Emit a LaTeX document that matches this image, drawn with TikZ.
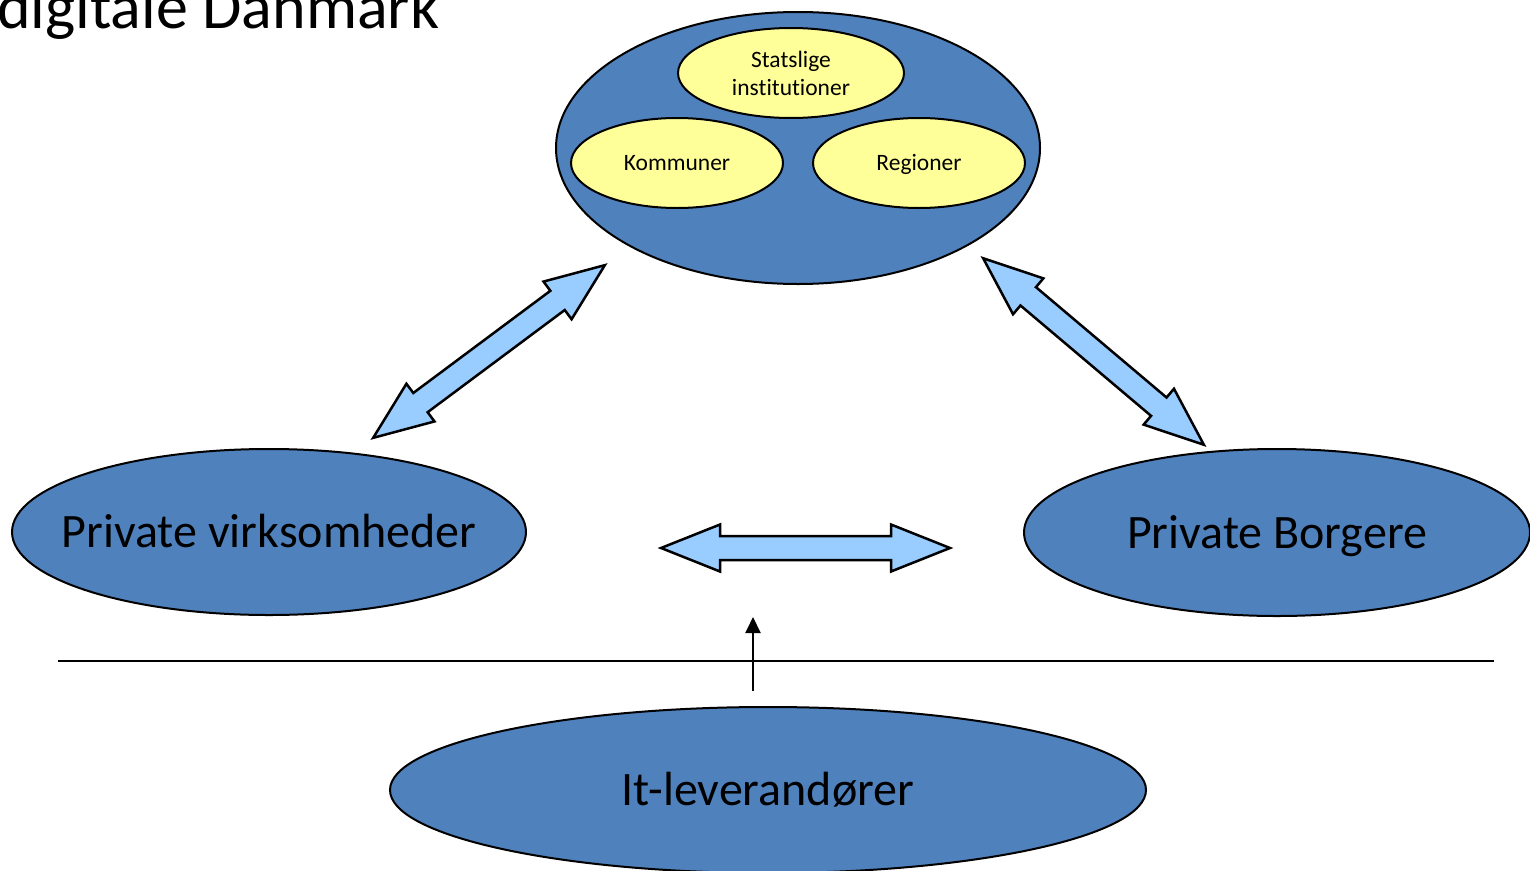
\documentclass[tikz,border=0pt]{standalone}
\usepackage{fontspec}
\setmainfont{Carlito}[Ligatures=NoCommon]
\usetikzlibrary{shapes.geometric,arrows.meta}

\definecolor{officeblue}{HTML}{4F81BD}
\definecolor{paleyellow}{HTML}{FFFF99}
\definecolor{arrowblue}{HTML}{99CCFF}

\tikzset{
  bigblob/.style={ellipse,draw=black,line width=2pt,fill=officeblue,inner sep=0pt},
  bigtext/.style={font=\fontsize{48}{58}\selectfont,text height=31pt,text depth=0pt,inner sep=0pt},
  smallblob/.style={ellipse,draw=black,line width=2pt,fill=paleyellow,inner sep=0pt,
    font=\fontsize{23.5}{28}\selectfont,align=center},
  smalltext/.style={text height=15.3pt,text depth=0pt},
  arrowbody/.style={draw=black,line width=2.5pt,fill=arrowblue,line join=miter},
}

% block arrow with two heads: centre, angle
\newcommand{\twowayarrow}[2]{%
  \begin{scope}[shift={#1},rotate=#2]
    \draw[arrowbody] (-144.5,0) -- (-85.5,23.5) -- (-85.5,12) -- (85.5,12)
      -- (85.5,23.5) -- (144.5,0) -- (85.5,-23.5) -- (85.5,-12)
      -- (-85.5,-12) -- (-85.5,-23.5) -- cycle;
  \end{scope}}

\begin{document}
\begin{tikzpicture}[x=1pt,y=-1pt]
  \useasboundingbox (0,0) rectangle (1530,870);
  \node[anchor=base west,inner sep=0pt,font=\fontsize{64}{74}\selectfont] (title) at (-3,28) {digitale Danmark};

  % the public sector
  \node[bigblob,minimum width=484,minimum height=272] (public) at (798,148) {};
  \node[smallblob,minimum width=226,minimum height=90] (state) at (791,73) {Statslige\\institutioner};
  \node[smallblob,smalltext,minimum width=212,minimum height=90] (muni) at (677,163) {Kommuner};
  \node[smallblob,smalltext,minimum width=212,minimum height=90] (region) at (919,163) {Regioner};

  \node[bigblob,minimum width=514,minimum height=166,
    label={[bigtext]center:Private virksomheder}] (firms) at (269,532) {};
  \node[bigblob,minimum width=506,minimum height=167,
    label={[bigtext]center:Private Borgere}] (citizens) at (1277,532.5) {};
  \node[bigblob,minimum width=756,minimum height=166,
    label={[bigtext]center:It-leverandører}] (itsupply) at (768,790) {};

  % exchanges
  \twowayarrow{(489,351.5)}{36.7}
  \twowayarrow{(1093.5,351.5)}{-40.2}
  \twowayarrow{(805.5,548)}{0}

  % supplier line
  \coordinate (lineW) at (58,661);
  \coordinate (lineE) at (1494,661);
  \draw[line width=2pt] (lineW) -- (lineE);
  \coordinate (supplyfoot) at (753,691);
  \coordinate (supplytip) at (753,617);
  \draw[line width=2pt,-{Triangle[length=16pt,width=15pt]}] (supplyfoot) -- (supplytip);
\end{tikzpicture}
\end{document}
